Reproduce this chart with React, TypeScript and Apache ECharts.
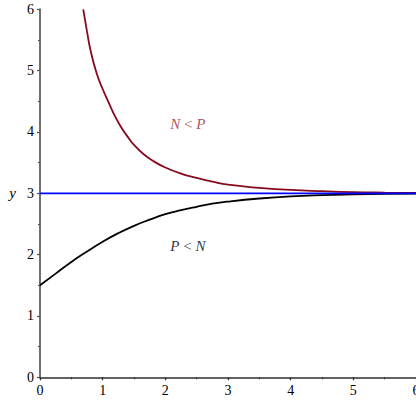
import React, { useEffect, useRef } from "react";
import * as echarts from "echarts";

// Solution above the equilibrium (N < P), read as [x, y] pairs
const upperCurve: [number, number][] = [
  [0.69, 6.0], [0.75, 5.64], [0.8, 5.36], [0.9, 4.97], [1.0, 4.7],
  [1.1, 4.47], [1.2, 4.25], [1.3, 4.07], [1.4, 3.92], [1.5, 3.79],
  [1.65, 3.64], [1.8, 3.53], [2.0, 3.42], [2.25, 3.32], [2.5, 3.25],
  [2.75, 3.19], [3.0, 3.14], [3.5, 3.09], [4.0, 3.055], [4.5, 3.035],
  [5.0, 3.02], [5.5, 3.012], [6.0, 3.007],
];

// Solution below the equilibrium (P < N)
const lowerCurve: [number, number][] = [
  [0, 1.5], [0.25, 1.69], [0.5, 1.88], [0.75, 2.05], [1.0, 2.21],
  [1.25, 2.35], [1.5, 2.47], [1.75, 2.57], [2.0, 2.66], [2.25, 2.725],
  [2.5, 2.78], [2.75, 2.83], [3.0, 2.865], [3.5, 2.915], [4.0, 2.95],
  [4.5, 2.97], [5.0, 2.982], [5.5, 2.99], [6.0, 2.994],
];

// Equilibrium line y = 3
const equilibrium: [number, number][] = [[0, 3], [6, 3]];

// Region labels and where they sit in data coordinates
const regionLabels = [
  { text: "{i|N} < {i|P}", at: [2.36, 4.13], color: "#962333" },
  { text: "{i|P} < {i|N}", at: [2.36, 2.14], color: "#000000" },
];

const SERIF = "Liberation Serif";

export default function App() {
  const ref = useRef<HTMLDivElement>(null);

  useEffect(() => {
    if (!ref.current) return;
    const chart = echarts.init(ref.current, null, { renderer: "svg" });

    const axisCommon = {
      type: "value" as const,
      min: 0,
      max: 6,
      interval: 1,
      splitLine: { show: false },
      axisTick: { show: true, length: 3, lineStyle: { width: 1.2 } },
      minorTick: { show: true, splitNumber: 2, length: 2, lineStyle: { width: 1 } },
      axisLabel: { fontFamily: SERIF, fontSize: 14, color: "#000", margin: 6 },
    };

    chart.setOption({
      animation: false,
      textStyle: { fontFamily: SERIF },
      grid: {
        left: 40,
        right: 0,
        top: 9.3,
        bottom: 22.7,
        containLabel: false,
        outerBoundsMode: "none",
      },
      xAxis: {
        ...axisCommon,
        axisLine: { show: true, onZero: false, lineStyle: { color: "#303030", width: 1.5 } },
        axisTick: { ...axisCommon.axisTick, lineStyle: { color: "#303030", width: 1.2 } },
        minorTick: { ...axisCommon.minorTick, lineStyle: { color: "#303030", width: 1 } },
      },
      yAxis: {
        ...axisCommon,
        name: "y",
        nameLocation: "middle",
        nameGap: 24,
        nameRotate: 0,
        nameTextStyle: { fontFamily: SERIF, fontStyle: "italic", fontSize: 15, color: "#000" },
        axisLine: { show: true, onZero: false, lineStyle: { color: "#707070", width: 2 } },
        axisTick: { ...axisCommon.axisTick, lineStyle: { color: "#505050", width: 1.2 } },
        minorTick: { ...axisCommon.minorTick, lineStyle: { color: "#505050", width: 1 } },
      },
      series: [
        {
          type: "line",
          data: upperCurve,
          showSymbol: false,
          smooth: true,
          lineStyle: { color: "#850a1e", width: 1.8 },
          z: 3,
        },
        {
          type: "line",
          data: lowerCurve,
          showSymbol: false,
          smooth: true,
          lineStyle: { color: "#000000", width: 1.8 },
          z: 3,
        },
        {
          type: "line",
          data: equilibrium,
          showSymbol: false,
          lineStyle: { color: "#0000ff", width: 1.8 },
          z: 4,
        },
        ...regionLabels.map((l) => ({
          type: "scatter",
          symbolSize: 0,
          silent: true,
          data: [l.at],
          label: {
            show: true,
            position: "inside",
            formatter: l.text,
            fontFamily: SERIF,
            fontSize: 15,
            color: l.color,
            rich: {
              i: { fontFamily: SERIF, fontStyle: "italic", fontSize: 15, color: l.color },
            },
          },
        })),
      ],
    });

    return () => chart.dispose();
  }, []);

  return (
    <div
      ref={ref}
      style={{ position: "fixed", left: 0, top: 0, width: 416, height: 400, background: "#fff" }}
    />
  );
}
